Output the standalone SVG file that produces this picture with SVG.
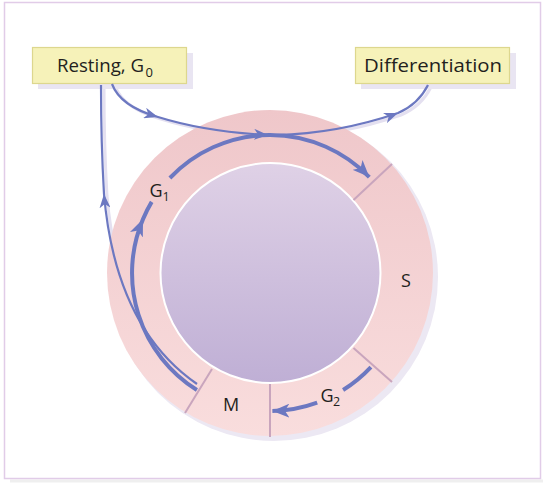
<svg xmlns="http://www.w3.org/2000/svg" width="545" height="484" viewBox="0 0 545 484">
<style>
text{font-family:"Open Sans","Noto Sans","DejaVu Sans",sans-serif;fill:#231f20}
.box{fill:#f6f2b9;stroke:#ddd78e;stroke-width:1.2}
.boxsh{fill:#e9e5f2}
.div{stroke:#c9a5bd;stroke-width:2;fill:none}
.thin{fill:none;stroke:#6c78c1;stroke-width:2.2}
.thick{fill:none;stroke:#6c78c1;stroke-width:4}
.sh{fill:none;stroke:#e4e0f0;stroke-width:3}
.lbl{font-size:18px}
.sub{font-size:12.5px}
</style>
<defs>
<linearGradient id="ringG" x1="0" y1="0" x2="0" y2="1">
<stop offset="0" stop-color="#efc7ca"/>
<stop offset="1" stop-color="#f9dddd"/>
</linearGradient>
<linearGradient id="coreG" x1="0" y1="0" x2="0" y2="1">
<stop offset="0" stop-color="#dfd1e6"/>
<stop offset="1" stop-color="#bfafd5"/>
</linearGradient>
<marker id="aThin" markerUnits="userSpaceOnUse" markerWidth="15" markerHeight="11" viewBox="0 0 15 11" refX="14" refY="5.5" orient="auto">
<path d="M0,0 L14,5.5 L0,11 L4,5.5 z" fill="#6c78c1"/>
</marker>
<marker id="aThick" markerUnits="userSpaceOnUse" markerWidth="18" markerHeight="14" viewBox="0 0 18 14" refX="17" refY="7" orient="auto">
<path d="M0,0 L17,7 L0,14 L4.5,7 z" fill="#6c78c1"/>
</marker>
</defs>

<rect x="10" y="479.5" width="533" height="3" fill="#efefef"/>
<rect x="4.5" y="2.5" width="536" height="476" fill="#ffffff" stroke="#e1cce8" stroke-width="1.5"/>

<g id="connector-shadows" transform="translate(3,2)">
<path class="sh" d="M112,84 C118,100 133,110 158,117 C190,127 230,133 268,135"/>
<path class="sh" d="M276,135 C320,134 360,126 398,113 C412,107 422,97 428,85"/>
<path class="sh" d="M197,384 C155,355 113,300 104,194 C102,160 101,120 101,85"/>
</g>

<g id="cycle">
<circle cx="274" cy="277" r="164" fill="#ece8f3"/>
<circle cx="270" cy="273" r="163" fill="url(#ringG)"/>
<circle cx="270.5" cy="273" r="110" fill="url(#coreG)" stroke="#ffffff" stroke-width="2"/>
<line class="div" x1="353.5" y1="200" x2="392" y2="164"/>
<line class="div" x1="353.5" y1="348" x2="392" y2="382"/>
<line class="div" x1="270" y1="384" x2="270" y2="437"/>
<line class="div" x1="212" y1="369" x2="185" y2="413"/>
</g>

<g id="node-resting">
<rect class="boxsh" x="38" y="53" width="155" height="36"/>
<rect class="box" x="32.5" y="47.5" width="154" height="36"/>
<text x="57" y="71.5" font-size="19" textLength="87" lengthAdjust="spacingAndGlyphs">Resting, G</text>
<text x="145.5" y="76.5" font-size="13">0</text>
</g>

<g id="node-differentiation">
<rect class="boxsh" x="361" y="53" width="155" height="36"/>
<rect class="box" x="355.5" y="47.5" width="154" height="36"/>
<text x="364" y="71.5" font-size="19" textLength="138" lengthAdjust="spacingAndGlyphs">Differentiation</text>
</g>

<g id="phase-g1"><text class="lbl" x="149.5" y="197">G</text><text class="sub" x="162.5" y="201">1</text></g>
<g id="phase-s"><text class="lbl" x="401" y="287">S</text></g>
<g id="phase-m"><text class="lbl" x="223" y="411">M</text></g>
<g id="phase-g2"><text class="lbl" x="320.5" y="401.5">G</text><text class="sub" x="333" y="405.5">2</text></g>

<g id="connectors">
<path class="thin" d="M112,84 C118,100 133,110 158,117 C190,127 230,133 268,135" marker-mid="url(#aThin)" marker-end="url(#aThin)"/>
<path class="thin" d="M276,135 C320,134 360,126 398,113 C412,107 422,97 428,85" marker-mid="url(#aThin)"/>
<path class="thin" d="M197,384 C155,355 113,300 104,194 C102,160 101,120 101,85" marker-mid="url(#aThin)"/>
<path class="thick" d="M196.9,390 A138,138 0 0 1 143,219.1 A138,138 0 0 1 151.7,201.9" marker-mid="url(#aThick)"/>
<path class="thick" d="M169.9,178 A138,138 0 0 1 369.3,177.1" marker-end="url(#aThick)"/>
<path class="thick" d="M370.9,367.1 A138,138 0 0 1 343.1,390"/>
<path class="thick" d="M317.2,402.7 A138,138 0 0 1 272.4,411" marker-end="url(#aThick)"/>
</g>
</svg>
